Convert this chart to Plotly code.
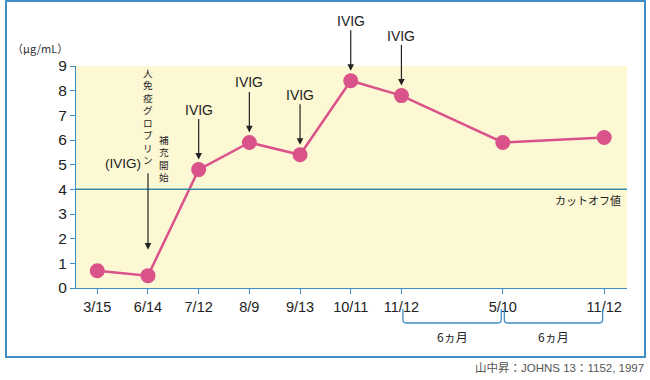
import plotly.graph_objects as go

# ---- data ----
dates = ["3/15", "6/14", "7/12", "8/9", "9/13", "10/11", "11/12", "5/10", "11/12"]
positions = [0, 1, 2, 3, 4, 5, 6, 8, 10]
igg = [0.7, 0.5, 4.8, 5.9, 5.4, 8.4, 7.8, 5.9, 6.1]
ivig_idx = [2, 3, 4, 5, 6]
cutoff = 4
cutoff_label = "カットオフ値"
start_label = "人免疫グロブリン"
start_label2 = "補充開始"
period_label = "6ヵ月"
source = "山中昇：JOHNS 13：1152, 1997"
unit = "（μg/mL）"

W, H = 650, 380
L, R, T, B = 76, 23, 66, 92
pw, ph = W - L - R, H - T - B
def px(x): return (x - L) / pw
def py(y): return (H - B - y) / ph

PINK = "#d9528a"
BLUE = "#3f8fc6"
TEAL = "#3a8caa"
JP = "Noto Sans CJK JP"
LAT = "Liberation Sans, Arial"

fig = go.Figure()
fig.add_trace(go.Scatter(
    x=positions, y=igg, mode="lines+markers",
    line=dict(color=PINK, width=2.5),
    marker=dict(color=PINK, size=15),
    cliponaxis=False, showlegend=False))

fig.add_shape(type="line", xref="paper", yref="y", x0=0, x1=1, y0=cutoff, y1=cutoff,
              line=dict(color=TEAL, width=1.5))

ann = []
for i in ivig_idx:
    ann.append(dict(x=positions[i], y=igg[i], xref="x", yref="y", text="IVIG",
                    showarrow=True, ax=0, ay=-60, arrowhead=2, arrowsize=1.1,
                    arrowwidth=1.2, arrowcolor="#222", standoff=10,
                    font=dict(family=LAT, size=14, color="#222")))
# start arrow at 6/14
ann.append(dict(x=positions[1], y=igg[1], xref="x", yref="y", text="",
                showarrow=True, ax=0, ay=-104, arrowhead=2, arrowsize=1.1,
                arrowwidth=1.2, arrowcolor="#222", standoff=26))
# vertical Japanese text (one character per line)
ann.append(dict(x=px(148), y=py(116.5), xref="paper", yref="paper",
                xanchor="center", yanchor="middle", text="<br>".join(start_label),
                showarrow=False, font=dict(family=JP, size=9.6, color="#222")))
ann.append(dict(x=px(164), y=py(158.5), xref="paper", yref="paper",
                xanchor="center", yanchor="middle", text="<br>".join(start_label2),
                showarrow=False, font=dict(family=JP, size=9.6, color="#222")))
ann.append(dict(x=px(143), y=py(163), xref="paper", yref="paper", xanchor="right",
                yanchor="middle", text="(IVIG)", showarrow=False,
                font=dict(family=LAT, size=13.5, color="#222")))
ann.append(dict(x=px(623), y=py(200), xref="paper", yref="paper", xanchor="right",
                yanchor="middle", text=cutoff_label, showarrow=False,
                font=dict(family=JP, size=11, color="#222")))
ann.append(dict(x=px(70), y=py(48), xref="paper", yref="paper", xanchor="right",
                yanchor="middle", text=unit, showarrow=False,
                font=dict(family=JP, size=11, color="#333")))
ann.append(dict(x=px(646), y=py(368), xref="paper", yref="paper", xanchor="right",
                yanchor="middle", text=source, showarrow=False,
                font=dict(family="Liberation Sans, Noto Sans CJK JP", size=11.5,
                          color="#555")))

# 6-month brackets
shapes = []
yt, yb = py(309), py(323)
for a, b in [(6, 8), (8, 10)]:
    x0, x1 = a + 0.03, b - 0.03
    r = 0.08
    path = (f"M {x0},{yt} L {x0},{yb + 0.015} Q {x0},{yb} {x0 + r},{yb} "
            f"L {x1 - r},{yb} Q {x1},{yb} {x1},{yb + 0.015} L {x1},{yt}")
    shapes.append(dict(type="path", xref="x", yref="paper", path=path,
                       line=dict(color=BLUE, width=1.3)))
    ann.append(dict(x=(a + b) / 2, y=py(336), xref="x", yref="paper", text=period_label,
                    showarrow=False, xanchor="center", yanchor="middle",
                    font=dict(family=JP, size=12, color="#222")))
# frame
shapes.append(dict(type="rect", xref="paper", yref="paper", x0=px(6), x1=px(645),
                   y0=py(357), y1=py(1), line=dict(color=BLUE, width=2)))
for s in shapes:
    fig.add_shape(**s)

fig.update_layout(
    width=W, height=H, margin=dict(l=L, r=R, t=T, b=B),
    paper_bgcolor="white", plot_bgcolor="#fdf8d4",
    annotations=ann, showlegend=False,
    xaxis=dict(range=[-0.42, 10.45], tickvals=positions, ticktext=dates,
               showgrid=False, zeroline=False, showline=True, linecolor=BLUE,
               linewidth=1.2, ticks="outside", ticklen=5, tickcolor=BLUE,
               tickfont=dict(family=LAT, size=14.5, color="#222")),
    yaxis=dict(range=[0, 9], dtick=1, showgrid=False, zeroline=False,
               showline=True, linecolor=BLUE, linewidth=1.2, ticks="outside",
               ticklen=5, tickcolor=BLUE,
               tickfont=dict(family=LAT, size=15.5, color="#222")),
)
fig.write_html("out.html", post_script="document.body.style.margin='0';",
               config={"displayModeBar": False})
